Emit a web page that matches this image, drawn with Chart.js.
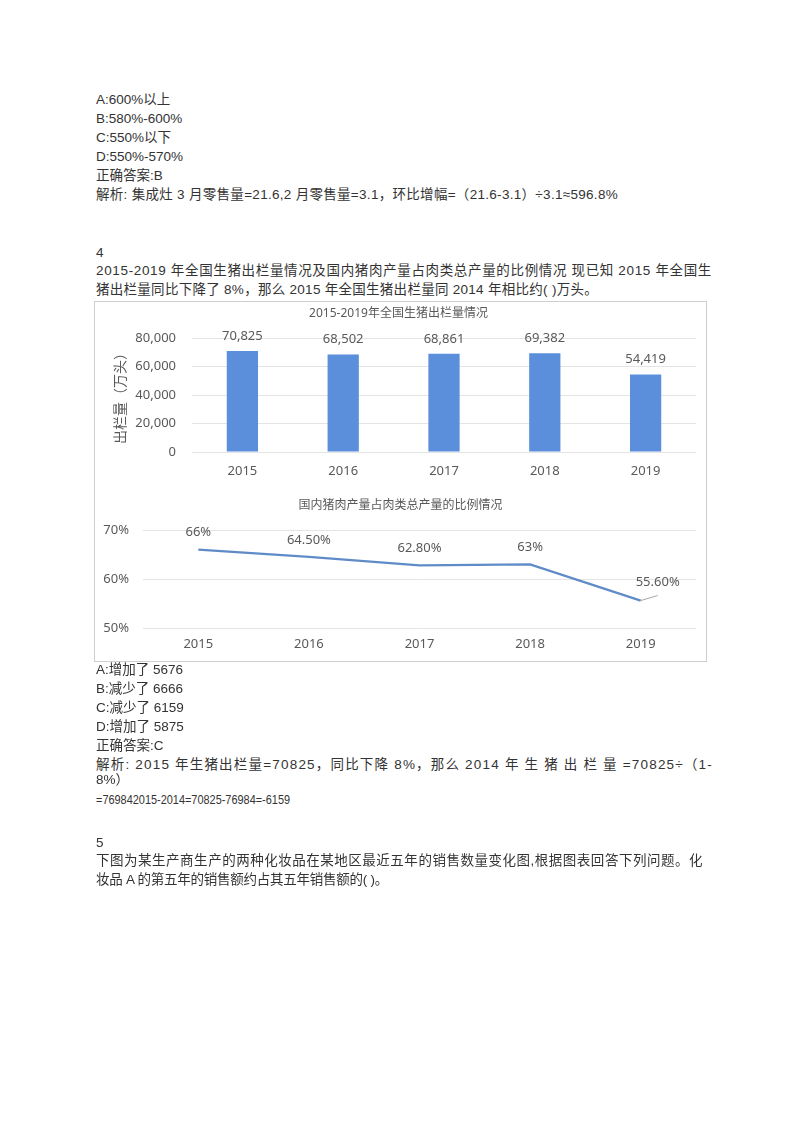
<!DOCTYPE html>
<html><head><meta charset="utf-8">
<script src="https://cdn.jsdelivr.net/npm/chart.js@4.4.1/dist/chart.umd.min.js"></script>
<style>
html,body{margin:0;padding:0;background:#fff;}
body{width:800px;height:1132px;position:relative;overflow:hidden;font-family:"Liberation Sans","Noto Sans CJK SC",sans-serif;color:#333;}
.t{position:absolute;left:96px;font-size:13.5px;line-height:19px;white-space:pre;}
#box{position:absolute;left:94px;top:301px;width:611px;height:359px;border:1px solid #cfcfcf;box-sizing:content-box;}
#c1wrap{position:absolute;left:0;top:0;width:611px;height:184px;}
#c2wrap{position:absolute;left:0;top:184px;width:611px;height:175px;}
</style></head><body>
<div class="t" style="top:90px">A:600%以上</div>
<div class="t" style="top:109px">B:580%-600%</div>
<div class="t" style="top:128px">C:550%以下</div>
<div class="t" style="top:147px">D:550%-570%</div>
<div class="t" style="top:166px">正确答案:B</div>
<div class="t" data-end="618" style="top:185px">解析: 集成灶 3 月零售量=21.6,2 月零售量=3.1，环比增幅=（21.6-3.1）÷3.1≈596.8%</div>
<div class="t" style="top:243px">4</div>
<div class="t" data-end="712" style="top:261px">2015-2019 年全国生猪出栏量情况及国内猪肉产量占肉类总产量的比例情况 现已知 2015 年全国生</div>
<div class="t" data-end="598" style="top:280px">猪出栏量同比下降了 8%，那么 2015 年全国生猪出栏量同 2014 年相比约( )万头。</div>
<div id="box">
  <div id="c1wrap"><canvas id="c1"></canvas></div>
  <div id="c2wrap"><canvas id="c2"></canvas></div>
</div>
<div class="t" style="top:660px">A:增加了 5676</div>
<div class="t" style="top:679px">B:减少了 6666</div>
<div class="t" style="top:698px">C:减少了 6159</div>
<div class="t" style="top:717px">D:增加了 5875</div>
<div class="t" style="top:736px">正确答案:C</div>
<div class="t" data-end="713" style="top:755px">解析: 2015 年生猪出栏量=70825，同比下降 8%，那么 2014 年 生 猪 出 栏 量 =70825÷（1-</div>
<div class="t" style="top:770px">8%）</div>
<div class="t" data-fit="290" style="top:790px">=769842015-2014=70825-76984=-6159</div>
<div class="t" style="top:833px">5</div>
<div class="t" data-end="703" style="top:851px">下图为某生产商生产的两种化妆品在某地区最近五年的销售数量变化图,根据图表回答下列问题。化</div>
<div class="t" data-end="388" style="top:870px">妆品 A 的第五年的销售额约占其五年销售额的( )。</div>
<script>
document.querySelectorAll('.t[data-end]').forEach(el => {
  const target = parseFloat(el.dataset.end) - 96;
  const natural = el.getBoundingClientRect().width;
  const n = Array.from(el.textContent).length;
  el.style.letterSpacing = ((target - natural) / n).toFixed(3) + 'px';
});
document.querySelectorAll('.t[data-fit]').forEach(el => {
  const target = parseFloat(el.dataset.fit) - 96;
  const natural = el.getBoundingClientRect().width;
  el.style.transformOrigin = 'left center';
  el.style.transform = 'scaleX(' + (target / natural).toFixed(3) + ')';
});

const years = ['2015','2016','2017','2018','2019'];
const hogOutput = [70825, 68502, 68861, 69382, 54419];
const porkShare = [66, 64.5, 62.8, 63, 55.6];
const porkShareLabels = ['66%','64.50%','62.80%','63%','55.60%'];
const barTicks = [0, 20000, 40000, 60000, 80000];
const lineTicks = [50, 60, 70];

const FONT = '"Noto Sans","Noto Sans CJK SC",sans-serif';
const GRAY = '#595959';
const GRID = '#e4e4e4';

const titlePlugin = {
  id:'fixedTitle',
  afterDraw(chart, args, opts){
    const ctx = chart.ctx;
    ctx.save();
    ctx.font = '12px ' + FONT;
    ctx.fillStyle = GRAY;
    ctx.textAlign = 'center';
    ctx.textBaseline = 'middle';
    ctx.fillText(opts.text, chart.width/2 + (opts.dx||0), opts.y);
    ctx.restore();
  }
};

const barLabels = {
  id:'barLabels',
  afterDatasetsDraw(chart){
    const ctx = chart.ctx;
    const meta = chart.getDatasetMeta(0);
    ctx.save();
    ctx.font = '13px ' + FONT;
    ctx.fillStyle = GRAY;
    ctx.textAlign = 'center';
    ctx.textBaseline = 'middle';
    meta.data.forEach((el, i) => {
      ctx.fillText(hogOutput[i].toLocaleString('en-US'), el.x, el.y - 15);
    });
    ctx.restore();
  }
};

const lineLabels = {
  id:'lineLabels',
  afterDatasetsDraw(chart){
    const ctx = chart.ctx;
    const meta = chart.getDatasetMeta(0);
    ctx.save();
    ctx.font = '13px ' + FONT;
    ctx.fillStyle = GRAY;
    ctx.textAlign = 'center';
    ctx.textBaseline = 'middle';
    meta.data.forEach((el, i) => {
      if (i === meta.data.length - 1) {
        ctx.strokeStyle = '#a6a6a6';
        ctx.lineWidth = 1;
        ctx.beginPath();
        ctx.moveTo(el.x, el.y);
        ctx.lineTo(el.x + 17, el.y - 5);
        ctx.stroke();
        ctx.fillText(porkShareLabels[i], el.x + 17, el.y - 18);
      } else {
        ctx.fillText(porkShareLabels[i], el.x, el.y - 17);
      }
    });
    ctx.restore();
  }
};

new Chart(document.getElementById('c1'), {
  type:'bar',
  data:{labels:years, datasets:[{data:hogOutput, backgroundColor:'#5b8fdb', categoryPercentage:1, barPercentage:0.31}]},
  options:{
    responsive:true, maintainAspectRatio:false, animation:false,
    layout:{padding:{top:36, right:10, left:0, bottom:0}},
    plugins:{legend:{display:false}, tooltip:{enabled:false},
      fixedTitle:{text:'2015-2019年全国生猪出栏量情况', y:12, dx:-2}},
    scales:{
      x:{grid:{display:false, drawTicks:false}, border:{display:false},
         ticks:{color:GRAY, font:{family:FONT, size:13}, padding:11},
         afterFit(s){ s.height = 34; }},
      y:{min:0, max:80000, grid:{color:GRID, drawTicks:false}, border:{display:false},
         afterBuildTicks(s){ s.ticks = barTicks.map(v => ({value:v})); },
         ticks:{color:GRAY, font:{family:FONT, size:13}, padding:16,
           callback:v => v.toLocaleString('en-US')},
         title:{display:true, text:'出栏量（万头）', color:GRAY, font:{family:FONT, size:14}, padding:{top:18,bottom:0}},
         afterFit(s){ s.width = 97; }}
    }
  },
  plugins:[titlePlugin, barLabels]
});

new Chart(document.getElementById('c2'), {
  type:'line',
  data:{labels:years, datasets:[{data:porkShare, borderColor:'#5f8cc8', borderWidth:2.3, pointRadius:0, tension:0, fill:false}]},
  options:{
    responsive:true, maintainAspectRatio:false, animation:false,
    layout:{padding:{top:44, right:10, left:0, bottom:0}},
    plugins:{legend:{display:false}, tooltip:{enabled:false},
      fixedTitle:{text:'国内猪肉产量占肉类总产量的比例情况', y:20, dx:0}},
    scales:{
      x:{grid:{display:false, drawTicks:false}, border:{display:false}, offset:true,
         ticks:{color:GRAY, font:{family:FONT, size:13}, padding:8},
         afterFit(s){ s.height = 33; }},
      y:{min:50, max:70, grid:{color:GRID, drawTicks:false}, border:{display:false},
         afterBuildTicks(s){ s.ticks = lineTicks.map(v => ({value:v})); },
         ticks:{color:GRAY, font:{family:FONT, size:13}, padding:14, callback:v => v + '%'},
         afterFit(s){ s.width = 48; }}
    }
  },
  plugins:[titlePlugin, lineLabels]
});
</script>
</body></html>
